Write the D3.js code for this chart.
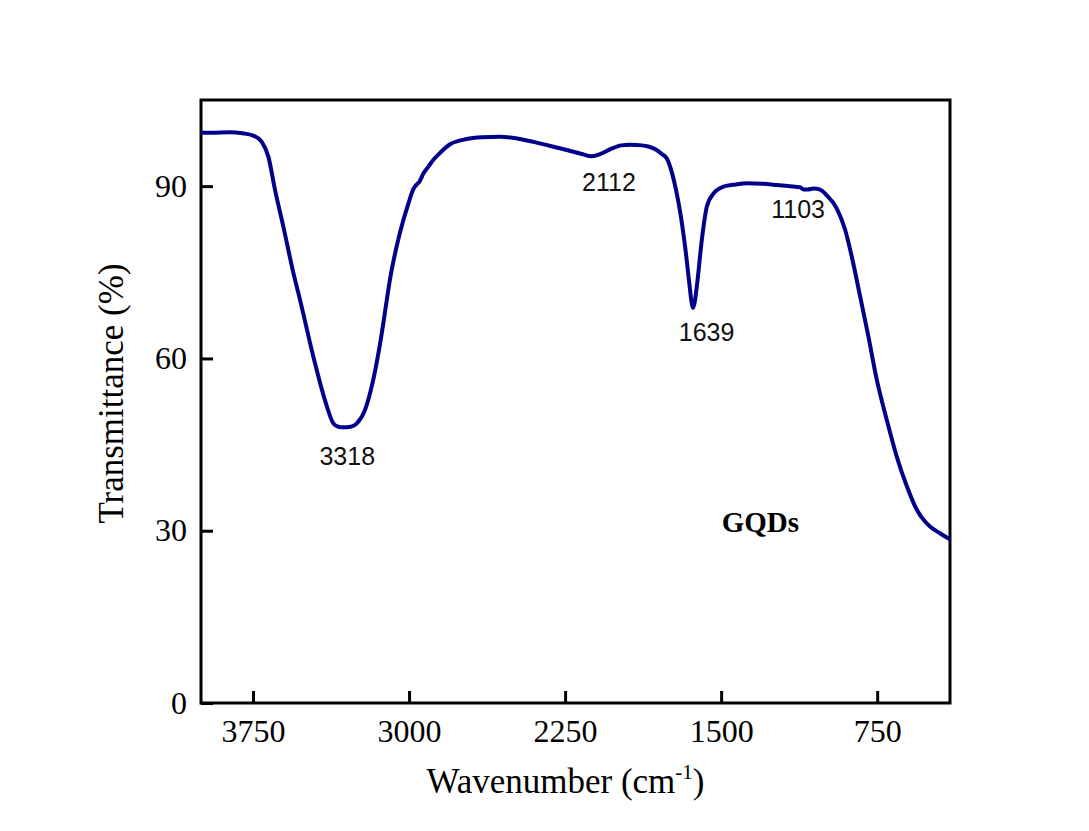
<!DOCTYPE html>
<html>
<head>
<meta charset="utf-8">
<style>
  body { margin: 0; background: #fff; }
  svg { display: block; }
  .tick text { font-family: 'Liberation Serif', 'Times New Roman', serif; font-size: 32px; fill: #000; }
  .tick line { stroke: #000; stroke-width: 3px; }
  .domain { display: none; }
</style>
</head>
<body>
<svg width="1089" height="831"></svg>
<script src="https://cdn.jsdelivr.net/npm/d3@7"></script>
<script>
  // spectrum: wavenumber (cm-1) and transmittance (%)
  var wavenumber = [4000, 3950, 3861, 3800, 3749, 3708, 3676, 3644, 3604, 3556, 3524, 3460, 3404, 3364, 3340, 3316, 3280, 3251, 3212, 3172,
    3131, 3107, 3091, 3043, 3003, 2979, 2963, 2950, 2931, 2907, 2883, 2851, 2803, 2723, 2650, 2563, 2480, 2402, 2320, 2242,
    2170, 2122, 2080, 2034, 1980, 1937, 1880, 1850, 1810, 1785, 1761, 1737, 1715, 1697, 1673, 1653, 1643, 1636, 1628, 1617,
    1593, 1569, 1537, 1489, 1430, 1377, 1300, 1232, 1170, 1120, 1104, 1085, 1056, 1024, 992, 944, 904, 872, 832, 792,
    752, 704, 656, 607, 559, 520, 495, 450, 415, 400];
  var transmittance = [99.3, 99.3, 99.4, 99.2, 98.8, 97.7, 95.1, 89.3, 82.9, 74.9, 70.2, 60.3, 52.7, 48.7, 48.1, 48.0, 48.1, 48.7, 51.0, 56.3,
    64.4, 70.2, 73.9, 82.0, 87.0, 89.5, 90.3, 90.8, 92.2, 93.4, 94.6, 95.8, 97.3, 98.2, 98.5, 98.6, 98.3, 97.7, 97.0, 96.3,
    95.6, 95.2, 95.6, 96.4, 97.1, 97.2, 97.1, 96.9, 96.3, 95.6, 94.8, 92.4, 89.0, 85.5, 79.4, 73.1, 70.0, 68.8, 69.6, 72.5,
    80.6, 86.4, 88.7, 89.9, 90.3, 90.5, 90.4, 90.2, 90.0, 89.8, 89.4, 89.4, 89.6, 89.4, 88.4, 86.1, 82.4, 77.7, 70.8, 63.8,
    56.3, 49.3, 42.9, 37.7, 33.6, 31.6, 30.7, 29.6, 28.8, 28.5];

  var xTicks = [3750, 3000, 2250, 1500, 750];
  var yTicks = [0, 30, 60, 90];

  // peak annotations: text and the point (wavenumber, %) where the label sits
  var peakLabels = ["3318", "2112", "1639", "1103"];
  var peakLabelX = [3297, 2039, 1570, 1130];
  var peakLabelY = [41.5, 89.2, 63.1, 84.5];

  var sampleName = "GQDs";
  var sampleAt = [1497, 29.7];

  var data = wavenumber.map(function(w, i) { return { w: w, t: transmittance[i] }; });

  var svg = d3.select("svg");
  var plotLeft = 201, plotRight = 950, plotTop = 100, plotBottom = 703;

  var x = d3.scaleLinear().domain([4000, 400]).range([plotLeft, plotRight]);
  var y = d3.scaleLinear().domain([0, 105]).range([plotBottom, plotTop]);

  // axes with inward ticks
  svg.append("g")
    .attr("class", "axis")
    .attr("transform", "translate(0," + plotBottom + ")")
    .call(d3.axisBottom(x).tickValues(xTicks).tickSize(-12).tickPadding(16).tickFormat(d3.format("d")));

  svg.append("g")
    .attr("class", "axis")
    .attr("transform", "translate(" + plotLeft + ",0)")
    .call(d3.axisLeft(y).tickValues(yTicks).tickSize(-12).tickPadding(14).tickFormat(d3.format("d")));

  // frame
  svg.append("rect")
    .attr("x", plotLeft)
    .attr("y", plotTop)
    .attr("width", plotRight - plotLeft)
    .attr("height", plotBottom - plotTop)
    .attr("fill", "none")
    .attr("stroke", "#000")
    .attr("stroke-width", 3);

  // spectrum
  var line = d3.line()
    .x(function(d) { return x(d.w); })
    .y(function(d) { return y(d.t); })
    .curve(d3.curveMonotoneX);

  svg.append("path")
    .datum(data)
    .attr("d", line)
    .attr("fill", "none")
    .attr("stroke", "#00008b")
    .attr("stroke-width", 4)
    .attr("stroke-linejoin", "round");

  // peak labels
  svg.selectAll(".peak")
    .data(peakLabels)
    .enter().append("text")
    .attr("class", "peak")
    .attr("x", function(d, i) { return x(peakLabelX[i]); })
    .attr("y", function(d, i) { return y(peakLabelY[i]); })
    .attr("text-anchor", "middle")
    .attr("font-family", "'Liberation Sans', Arial, sans-serif")
    .attr("font-size", 25)
    .attr("fill", "#111")
    .text(function(d) { return d; });

  svg.append("text")
    .attr("x", x(sampleAt[0]))
    .attr("y", y(sampleAt[1]))
    .attr("font-family", "'Liberation Serif', 'Times New Roman', serif")
    .attr("font-weight", "bold")
    .attr("font-size", 29)
    .text(sampleName);

  // axis titles
  var xt = svg.append("text")
    .attr("x", (plotLeft + plotRight) / 2 - 10)
    .attr("y", 793)
    .attr("text-anchor", "middle")
    .attr("font-family", "'Liberation Serif', 'Times New Roman', serif")
    .attr("font-size", 35);
  xt.append("tspan").text("Wavenumber (cm");
  xt.append("tspan").attr("font-size", 21).attr("dy", -14).text("-1");
  xt.append("tspan").attr("dy", 14).text(")");

  svg.append("text")
    .attr("transform", "translate(123," + ((plotTop + plotBottom) / 2 - 8) + ") rotate(-90)")
    .attr("text-anchor", "middle")
    .attr("font-family", "'Liberation Serif', 'Times New Roman', serif")
    .attr("font-size", 35)
    .text("Transmittance (%)");
</script>
</body>
</html>
